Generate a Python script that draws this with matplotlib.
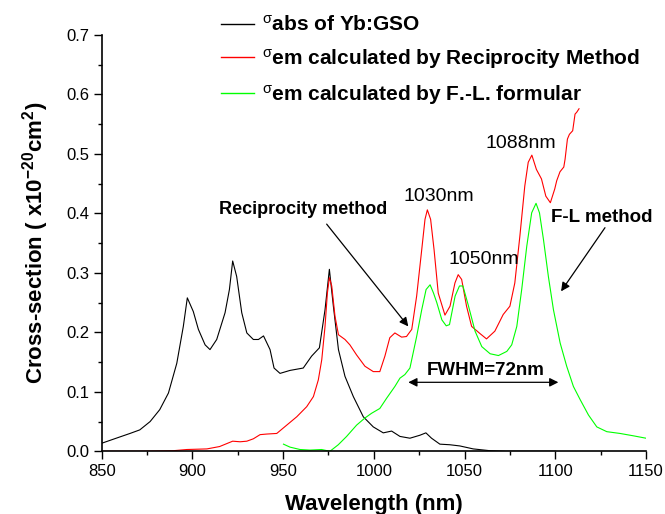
"""Absorption and emission cross-sections of Yb:GSO."""

import matplotlib

matplotlib.use("Agg")
import matplotlib.pyplot as plt
from matplotlib.ticker import MultipleLocator, FormatStrFormatter

plt.rcParams["font.family"] = ["Liberation Sans", "DejaVu Sans"]
plt.rcParams["mathtext.fontset"] = "custom"
plt.rcParams["mathtext.rm"] = "Liberation Sans"
plt.rcParams["mathtext.it"] = "Liberation Sans:italic"
plt.rcParams["mathtext.bf"] = "Liberation Sans:bold"

# absorption cross-section
abs_nm = [850, 858, 865.6, 871, 876.7, 882, 886.8, 891.4, 895, 897.2, 900.5,
          903.3, 907, 909.7, 913.4, 918, 920.4, 922.2, 924.4, 927.2, 930,
          933.6, 936.4, 939.2, 942.8, 945, 948.3, 953.8, 961.1, 965.7, 970,
          973.1, 975.5, 977.7, 980.5, 984.1, 988.7, 994.2, 999.7, 1005.2,
          1009.8, 1014.4, 1019.9, 1025.4, 1028.7, 1031.8, 1036.4, 1041.9,
          1047.4, 1054.8, 1064, 1073, 1100]
abs_cs = [0.0135, 0.022, 0.030, 0.036, 0.050, 0.070, 0.098, 0.148, 0.210,
          0.258, 0.235, 0.205, 0.179, 0.171, 0.188, 0.233, 0.272, 0.320,
          0.294, 0.233, 0.199, 0.188, 0.188, 0.194, 0.171, 0.140, 0.131,
          0.136, 0.140, 0.160, 0.174, 0.238, 0.306, 0.244, 0.171, 0.126,
          0.092, 0.058, 0.041, 0.031, 0.034, 0.025, 0.022, 0.027, 0.031,
          0.022, 0.012, 0.011, 0.009, 0.004, 0.001, 0.0, 0.0]

# emission cross-section, reciprocity method
rm_nm = [850, 871, 889.5, 897, 908, 915, 919, 922.2, 926.3, 930, 933.6,
         937.3, 941, 946.5, 952, 957.5, 963, 966.7, 969.4, 971.3, 973.1,
         974.4, 975.5, 976.8, 978.6, 980.5, 984.1, 986.8, 990.5, 995.1,
         999.7, 1003.3, 1006.1, 1008.8, 1011.6, 1015.3, 1018, 1020.9, 1023.6,
         1026.4, 1028.2, 1029.5, 1031.3, 1033.2, 1035.5, 1039.2, 1042,
         1044.7, 1046.5, 1048.4, 1051.1, 1053.9, 1058.5, 1062.1, 1066.7,
         1071.3, 1075, 1077.7, 1080.5, 1083.2, 1085.1, 1087.1, 1089.6,
         1092.4, 1094.8, 1097.3, 1099.7, 1100.8, 1102.6, 1104.7, 1105.4,
         1106.7, 1107.8, 1109.6, 1110.9, 1111.8, 1113.1]
rm_cs = [0.0, 0.0, 0.001, 0.003, 0.004, 0.008, 0.013, 0.017, 0.016, 0.017,
         0.021, 0.028, 0.029, 0.030, 0.044, 0.058, 0.075, 0.092, 0.120,
         0.154, 0.210, 0.266, 0.292, 0.278, 0.227, 0.196, 0.188, 0.179,
         0.162, 0.143, 0.134, 0.134, 0.160, 0.191, 0.199, 0.192, 0.193,
         0.205, 0.261, 0.339, 0.390, 0.406, 0.390, 0.339, 0.266, 0.229,
         0.244, 0.283, 0.297, 0.289, 0.244, 0.210, 0.198, 0.189, 0.202,
         0.230, 0.244, 0.283, 0.362, 0.446, 0.486, 0.498, 0.474, 0.458,
         0.429, 0.418, 0.441, 0.455, 0.470, 0.478, 0.491, 0.525, 0.533,
         0.539, 0.567, 0.570, 0.576]

# emission cross-section, Fuchtbauer-Ladenburg formula
fl_nm = [950.2, 953.8, 959.3, 964.8, 971.2, 975.8, 980.4, 985, 990.5, 995.1,
         998.8, 1003.3, 1007, 1011.6, 1014.4, 1017.1, 1019.9, 1023.6, 1026.4,
         1028.8, 1031, 1032.9, 1034.7, 1037.5, 1039.9, 1041.7, 1044.8,
         1047.2, 1049.1, 1052.2, 1055.8, 1059.5, 1064.1, 1068.7, 1073.3,
         1076, 1078.8, 1081.5, 1084.3, 1087, 1089.4, 1091.3, 1093.5, 1096.2,
         1099, 1102.7, 1106.3, 1110, 1113.7, 1118.3, 1122.9, 1128.4, 1135.7,
         1143.1, 1150]
fl_cs = [0.012, 0.007, 0.003, 0.002, 0.003, 0.0, 0.011, 0.025, 0.044, 0.056,
         0.064, 0.072, 0.089, 0.109, 0.123, 0.129, 0.140, 0.193, 0.238,
         0.272, 0.280, 0.266, 0.250, 0.221, 0.211, 0.213, 0.261, 0.278,
         0.278, 0.244, 0.202, 0.176, 0.164, 0.161, 0.168, 0.179, 0.210,
         0.272, 0.345, 0.401, 0.417, 0.401, 0.356, 0.294, 0.238, 0.182,
         0.143, 0.109, 0.087, 0.061, 0.041, 0.033, 0.030, 0.026, 0.022]

series_labels = [
    r"$^{\mathrm{\sigma}}$abs of Yb:GSO",
    r"$^{\mathrm{\sigma}}$em calculated by Reciprocity Method",
    r"$^{\mathrm{\sigma}}$em calculated by F.-L. formular",
]
series_colors = ["black", "#ff0000", "#00ff00"]

peak_labels = ["1030nm", "1050nm", "1088nm"]
peak_pos = [(1035.6, 0.429), (1060.4, 0.323), (1081.0, 0.517)]

fig = plt.figure(figsize=(6.65, 5.14), dpi=100)
ax = fig.add_axes([0.1529, 0.1220, 0.8185, 0.8099])

for xs, ys, lab, col in zip([abs_nm, rm_nm, fl_nm], [abs_cs, rm_cs, fl_cs],
                            series_labels, series_colors):
    ax.plot(xs, ys, color=col, lw=0.8, label=lab)

ax.set_xlim(850, 1150)
ax.set_ylim(0, 0.7)
ax.xaxis.set_major_locator(MultipleLocator(50))
ax.xaxis.set_minor_locator(MultipleLocator(25))
ax.yaxis.set_major_locator(MultipleLocator(0.1))
ax.yaxis.set_minor_locator(MultipleLocator(0.05))
ax.yaxis.set_major_formatter(FormatStrFormatter("%.1f"))
ax.tick_params(which="major", direction="out", length=5.8, width=1.0,
               labelsize=12, pad=3)
ax.tick_params(which="minor", direction="out", length=3.0, width=1.0)
for side in ("top", "right"):
    ax.spines[side].set_visible(False)
for side in ("left", "bottom"):
    ax.spines[side].set_linewidth(1.2)

ax.set_xlabel("Wavelength (nm)", fontsize=16, fontweight="bold", labelpad=11)
ax.set_ylabel(r"Cross-section ( x10$^{\mathbf{-20}}$cm$^{\mathbf{2}}$)",
              fontsize=16, fontweight="bold", labelpad=11)

leg = ax.legend(loc="upper left", bbox_to_anchor=(0.22, 1.048), frameon=False,
                handlelength=1.55, handletextpad=0.4, labelspacing=0.57,
                borderpad=0, borderaxespad=0,
                prop={"size": 15, "weight": "bold"})
for line in leg.get_lines():
    line.set_linewidth(1.0)

for txt, (x, y) in zip(peak_labels, peak_pos):
    ax.text(x, y, txt, fontsize=14, ha="center", va="center")

ax.text(961, 0.407, "Reciprocity method", fontsize=13, fontweight="bold",
        ha="center", va="center")
ax.annotate("", xy=(1019, 0.210), xytext=(974, 0.382),
            arrowprops=dict(arrowstyle="-|>", color="black", lw=0.9,
                            mutation_scale=13, shrinkA=0, shrinkB=0))

ax.text(1125.4, 0.393, "F-L method", fontsize=13.5, fontweight="bold",
        ha="center", va="center")
ax.annotate("", xy=(1103.2, 0.269), xytext=(1127.4, 0.376),
            arrowprops=dict(arrowstyle="-|>", color="black", lw=0.9,
                            mutation_scale=13, shrinkA=0, shrinkB=0))

ax.text(1061.6, 0.136, "FWHM=72nm", fontsize=13.5, fontweight="bold",
        ha="center", va="center")
ax.annotate("", xy=(1019, 0.116), xytext=(1101.7, 0.116),
            arrowprops=dict(arrowstyle="<|-|>", color="black", lw=0.9,
                            mutation_scale=13, shrinkA=0, shrinkB=0))

fig.savefig("out.png", dpi=100)
